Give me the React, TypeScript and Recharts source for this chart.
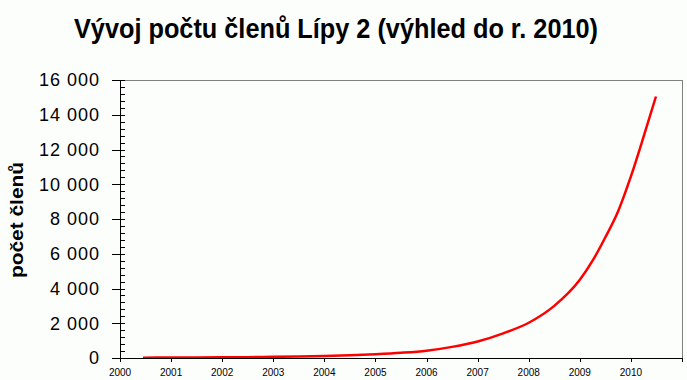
import { LineChart, Line, XAxis, YAxis, ReferenceLine } from 'recharts'

// odhad počtu členů podle let (čteno z grafu)
const years = [
  2000.45, 2001, 2001.5, 2002, 2002.5, 2003, 2003.5, 2004, 2004.5, 2005, 2005.5, 2006,
  2006.5, 2007, 2007.5, 2008, 2008.5, 2009, 2009.25, 2009.5, 2009.75, 2010, 2010.25, 2010.49,
]
const members = [
  20, 25, 32, 40, 50, 65, 85, 115, 160, 220, 300, 420,
  640, 950, 1420, 2030, 3000, 4500, 5600, 6950, 8450, 10450, 12750, 15050,
]

const yearTicks = [2000, 2001, 2002, 2003, 2004, 2005, 2006, 2007, 2008, 2009, 2010, 2011]
// každých 400 malá značka, každých 2000 popisek
const memberTicks = Array.from({ length: 41 }, (_, i) => i * 400)

const data = years.map((year, i) => ({ year, members: members[i] }))

const font = '"Liberation Sans", Arial, sans-serif'

const fmtThousands = (v: number) => {
  const s = String(v)
  return s.length > 3 ? s.slice(0, -3) + ' ' + s.slice(-3) : s
}

function YTick({ x, y, payload }: any) {
  const v = payload.value as number
  const major = v % 2000 === 0
  const yy = Math.round(y) + 0.5
  return (
    <g>
      <line x1={major ? x - 8 : x} x2={x + 5} y1={yy} y2={yy} stroke="#000" strokeWidth={1} />
      {major && (
        <text x={x - 20} y={y} dy="0.36em" textAnchor="end" fontSize={18} fontFamily={font} letterSpacing={1} fill="#000">
          {fmtThousands(v)}
        </text>
      )}
    </g>
  )
}

function XTick({ x, y, payload }: any) {
  const v = payload.value as number
  const xx = Math.round(x) + 0.5
  return (
    <g>
      <line x1={xx} x2={xx} y1={y} y2={y + 4} stroke="#000" strokeWidth={1} />
      {v !== 2011 && (
        <text x={x} y={y + 11} dy="0.71em" textAnchor="middle" fontSize={10} fontFamily={font} fill="#000">
          {v}
        </text>
      )}
    </g>
  )
}

export default function App() {
  return (
    <div style={{ position: 'absolute', left: 0, top: 0, width: 687, height: 380, background: '#fcfefc', fontFamily: font }}>
      <LineChart width={687} height={380} data={data} margin={{ top: 80, right: 5, bottom: 0, left: 0 }}>
        <ReferenceLine y={16000} stroke="#808080" strokeWidth={1} shapeRendering="crispEdges" />
        <ReferenceLine x={2011} stroke="#808080" strokeWidth={1} shapeRendering="crispEdges" />
        <XAxis
          dataKey="year"
          type="number"
          domain={[2000, 2011]}
          ticks={yearTicks}
          interval={0}
          height={22}
          tickSize={0}
          tickMargin={0}
          tickLine={false}
          axisLine={{ stroke: '#000', strokeWidth: 1, shapeRendering: 'crispEdges' }}
          tick={<XTick />}
          allowDataOverflow
        />
        <YAxis
          type="number"
          domain={[0, 16000]}
          ticks={memberTicks}
          interval={0}
          width={120}
          tickSize={0}
          tickMargin={0}
          tickLine={false}
          axisLine={{ stroke: '#000', strokeWidth: 1, shapeRendering: 'crispEdges' }}
          tick={<YTick />}
          allowDataOverflow
        />
        <Line
          type="monotone"
          dataKey="members"
          stroke="#ff0000"
          strokeWidth={2.5}
          dot={false}
          isAnimationActive={false}
        />
      </LineChart>
      <svg width={687} height={380} style={{ position: 'absolute', left: 0, top: 0, pointerEvents: 'none' }}>
        <text
          x={336}
          y={38}
          textAnchor="middle"
          fontSize={28}
          fontWeight="bold"
          fontFamily={font}
          textLength={524}
          lengthAdjust="spacingAndGlyphs"
          fill="#000"
        >
          Vývoj počtu členů Lípy 2 (výhled do r. 2010)
        </text>
        <text
          transform="translate(23, 220) rotate(-90)"
          textAnchor="middle"
          fontSize={19}
          fontWeight="bold"
          fontFamily={font}
          textLength={116}
          lengthAdjust="spacingAndGlyphs"
          fill="#000"
        >
          počet členů
        </text>
      </svg>
    </div>
  )
}
